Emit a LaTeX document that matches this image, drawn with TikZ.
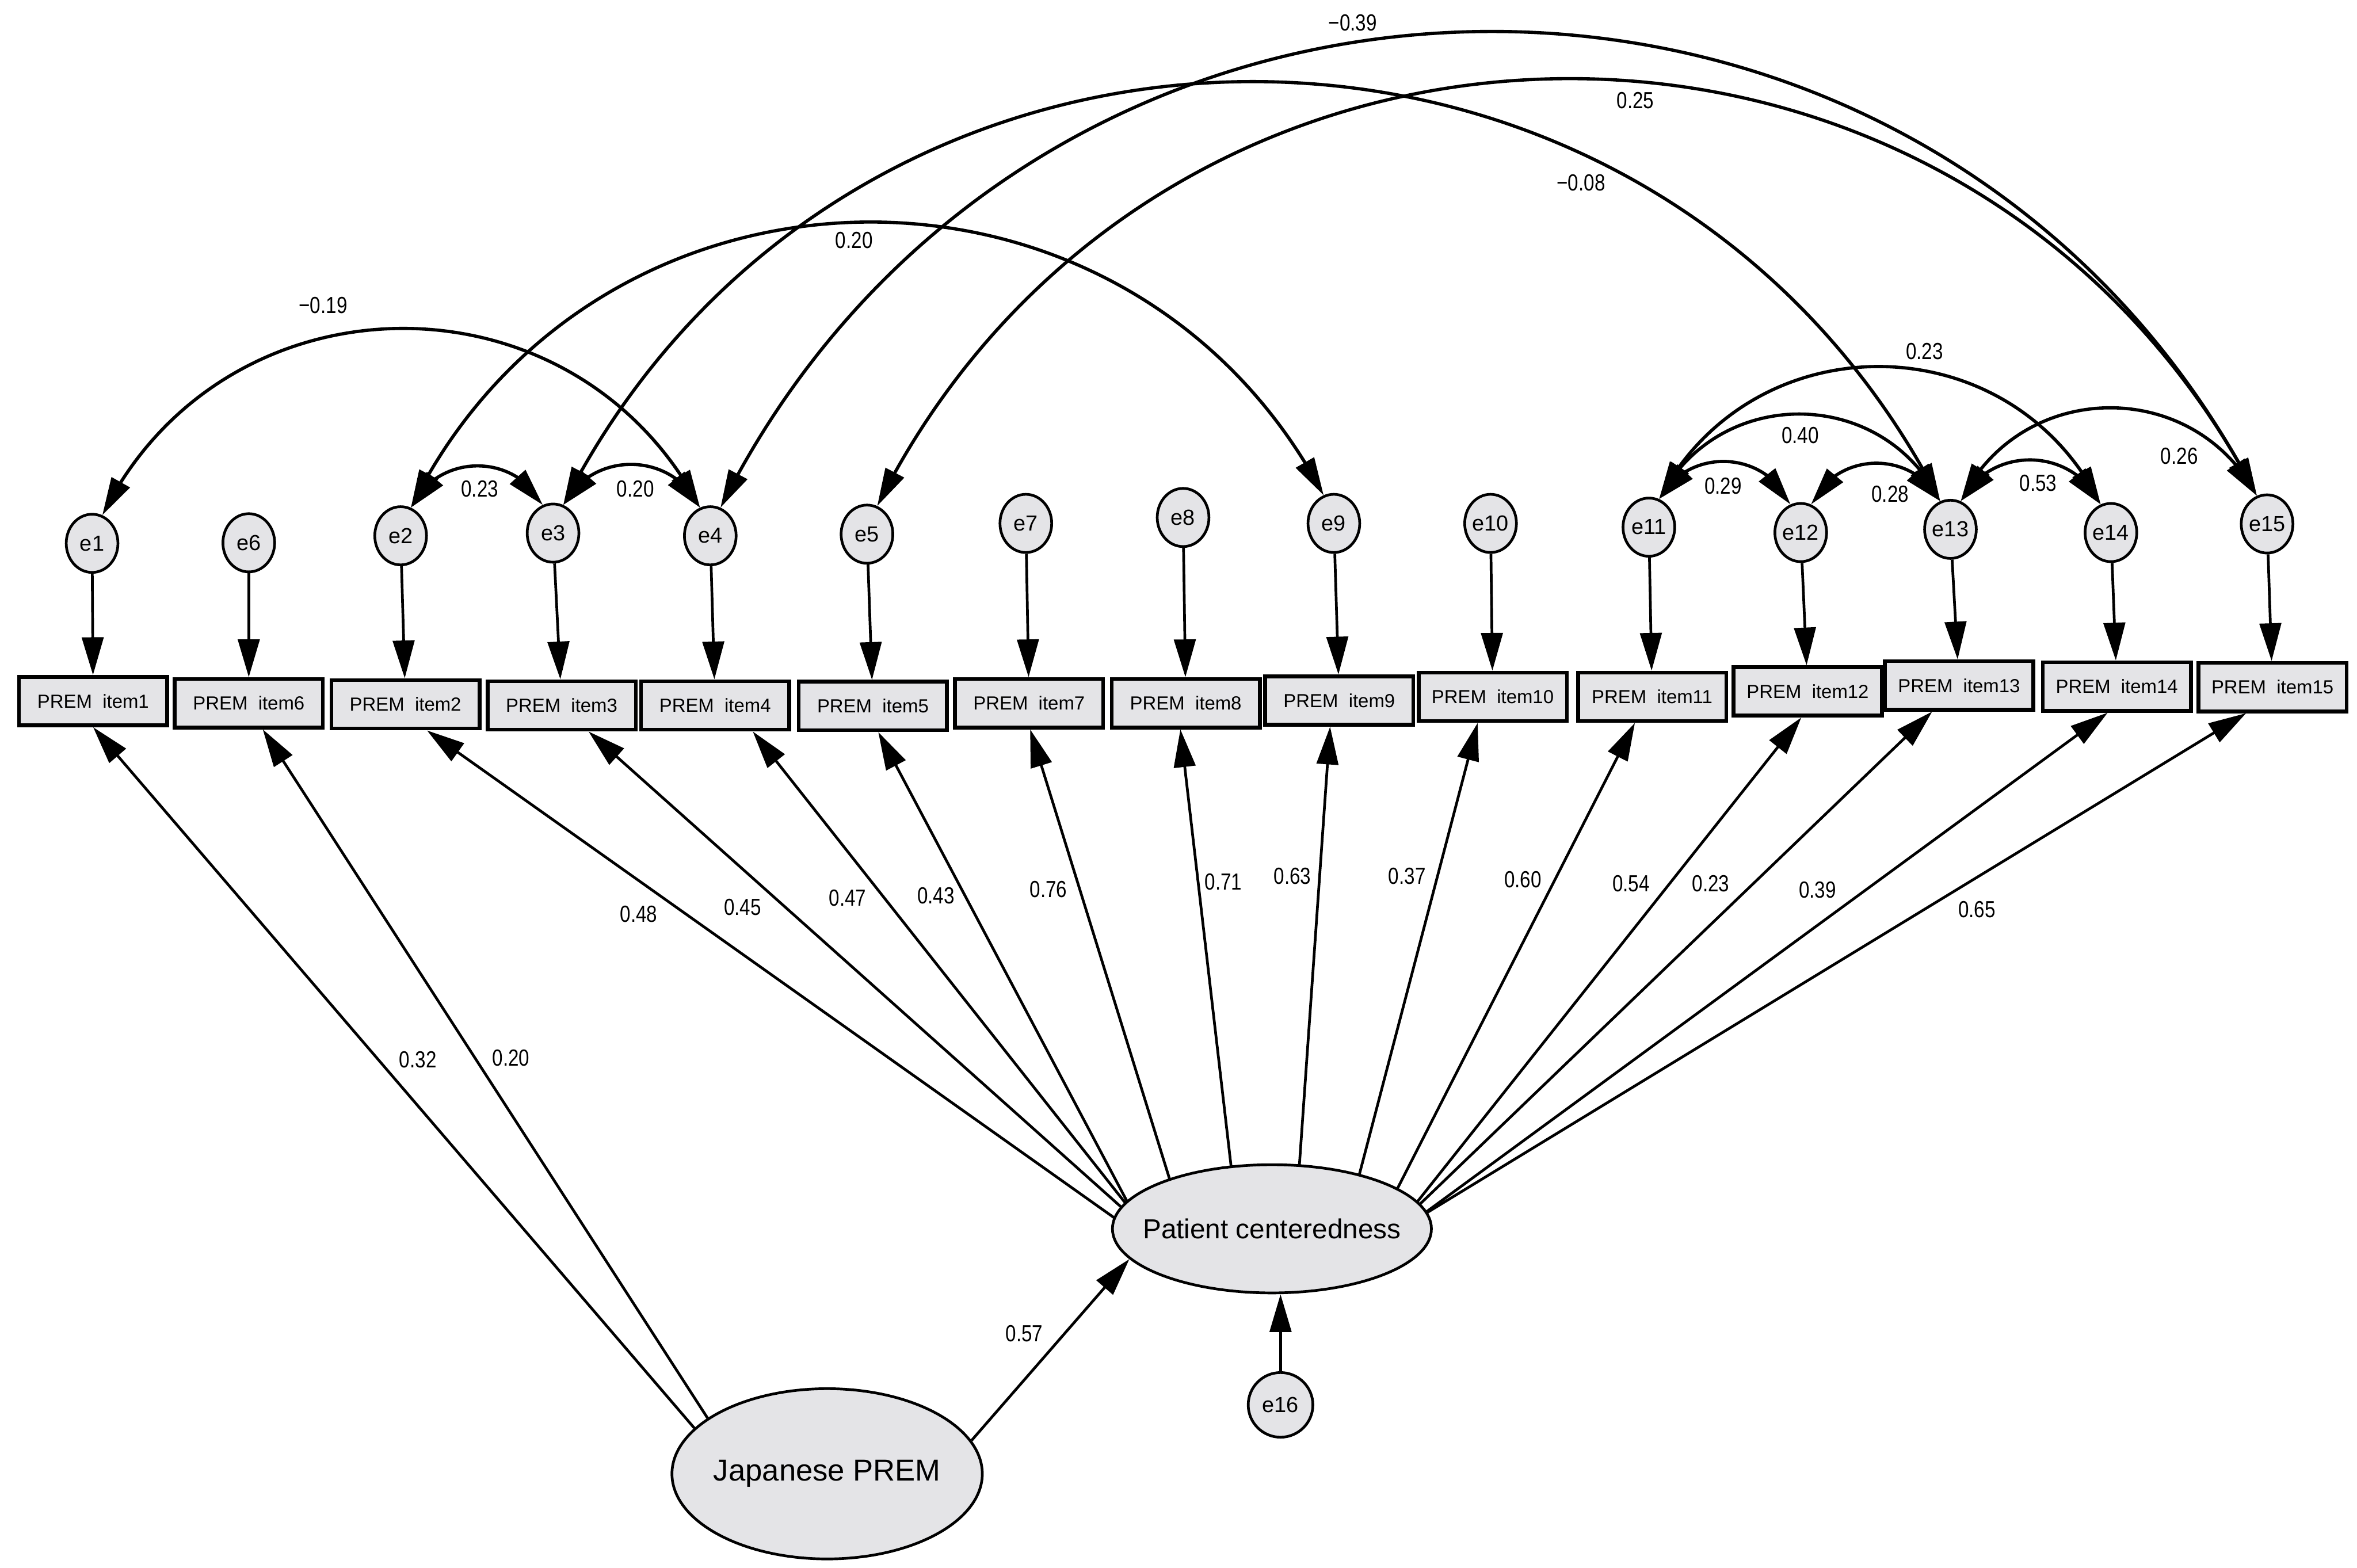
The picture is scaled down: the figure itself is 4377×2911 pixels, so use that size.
\documentclass[tikz,border=0pt]{standalone}
\usepackage{fontspec}
\setmainfont{Liberation Sans}
\newfontfamily\lblfont[FakeStretch=0.82]{Liberation Sans}
\usetikzlibrary{arrows.meta,shapes.geometric,intersections,bending}
\definecolor{shapefill}{RGB}{228,228,231}
\begin{document}
\begin{tikzpicture}[x=0.01cm, y=-0.01cm,
  regline/.style={line width=0.05cm, -{Triangle[length=0.7cm,width=0.4cm]}},
  covline/.style={line width=0.06cm, {Triangle[length=0.7cm,width=0.38cm]}-{Triangle[length=0.7cm,width=0.38cm]}, bend left=63, looseness=1.17},
  errnode/.style={ellipse, draw, line width=0.05cm, fill=shapefill, minimum width=0.96cm, minimum height=1.08cm, inner sep=0pt, font=\fontsize{11.5}{13}\selectfont},
  itembox/.style={rectangle, draw, line width=0.07cm, fill=shapefill, minimum width=2.75cm, minimum height=0.9cm, inner sep=0pt, font=\fontsize{10}{12}\selectfont},
  latent/.style={ellipse, draw, line width=0.05cm, fill=shapefill, inner sep=0pt},
  lbl/.style={inner sep=0pt, font=\lblfont\fontsize{12.3}{14}\selectfont}]
\useasboundingbox (0,0) rectangle (4377,2911);
\fill[white] (0,0) rectangle (4377,2911);

% error terms
\node[errnode] (e1)  at (171,1009) {\makebox[0pt]{e1}};
\node[errnode] (e6)  at (462,1008) {\makebox[0pt]{e6}};
\node[errnode] (e2)  at (744,995)  {\makebox[0pt]{e2}};
\node[errnode] (e3)  at (1027,990) {\makebox[0pt]{e3}};
\node[errnode] (e4)  at (1319,995) {\makebox[0pt]{e4}};
\node[errnode] (e5)  at (1610,992) {\makebox[0pt]{e5}};
\node[errnode] (e7)  at (1905,972) {\makebox[0pt]{e7}};
\node[errnode] (e8)  at (2197,961) {\makebox[0pt]{e8}};
\node[errnode] (e9)  at (2477,972) {\makebox[0pt]{e9}};
\node[errnode] (e10) at (2768,972) {\makebox[0pt]{e10}};
\node[errnode] (e11) at (3062,979) {\makebox[0pt]{e11}};
\node[errnode] (e12) at (3344,989) {\makebox[0pt]{e12}};
\node[errnode] (e13) at (3622,983) {\makebox[0pt]{e13}};
\node[errnode] (e14) at (3920,989) {\makebox[0pt]{e14}};
\node[errnode] (e15) at (4210,973) {\makebox[0pt]{e15}};

% items
\node[itembox] (item1)  at (173,1302)  {PREM\ \ item1};
\node[itembox] (item6)  at (462,1306)  {PREM\ \ item6};
\node[itembox] (item2)  at (753,1308)  {PREM\ \ item2};
\node[itembox] (item3)  at (1043,1310) {PREM\ \ item3};
\node[itembox] (item4)  at (1328,1310) {PREM\ \ item4};
\node[itembox] (item5)  at (1621,1311) {PREM\ \ item5};
\node[itembox] (item7)  at (1911,1306) {PREM\ \ item7};
\node[itembox] (item8)  at (2202,1306) {PREM\ \ item8};
\node[itembox] (item9)  at (2487,1301) {PREM\ \ item9};
\node[itembox] (item10) at (2772,1294) {PREM\ \ item10};
\node[itembox] (item11) at (3068,1294) {PREM\ \ item11};
\node[itembox] (item12) at (3357,1284) {PREM\ \ item12};
\node[itembox] (item13) at (3638,1273) {PREM\ \ item13};
\node[itembox] (item14) at (3931,1275) {PREM\ \ item14};
\node[itembox] (item15) at (4220,1276) {PREM\ \ item15};

% latent variables
\node[latent, minimum width=5.92cm, minimum height=2.38cm, font=\fontsize{14.5}{16}\selectfont] (pc) at (2362,2282) {\makebox[0pt]{Patient centeredness}};
\node[latent, minimum width=5.76cm, minimum height=3.16cm, font=\fontsize{16}{18}\selectfont] (jp) at (1536,2737) {\makebox[0pt]{Japanese PREM}};
\node[errnode, minimum width=1.2cm, minimum height=1.2cm] (e16) at (2378,2609) {\makebox[0pt]{e16}};

% error -> item
\foreach \k in {1,...,15} \draw[regline] (e\k) -- (item\k);

% Patient centeredness -> items
\path[name path=pcrim] (pc.center) ellipse [x radius=2.96cm, y radius=1.19cm];
\foreach \k/\off/\s in {2/40/1.41,3/50/1.12,4/70/0.79,5/10/0.53,7/2/0.31,8/-10/0.116,9/-17/-0.07,10/-28/-0.262,11/-32/-0.51,12/-12/-0.793,13/-50/-1.04,14/-17/-1.365,15/-49/-1.64}{
  \coordinate (T\k) at ([xshift=\off*0.01cm]item\k.south);
  \path[name path=ray] (T\k) -- ++(\s*1300,1300);
  \path[name intersections={of=ray and pcrim, sort by=ray, by={H\k}}];
  \draw[regline] (H\k) -- (T\k);
}

% Japanese PREM paths
\coordinate (T1) at (item1.south);
\coordinate (T6) at ([xshift=0.26cm]item6.south);
\draw[regline] (jp.161) -- (T1);
\draw[regline] (jp.155) -- (T6);
\draw[regline] (jp.13) -- (pc.192);
\draw[regline] (e16) -- (e16 |- pc.south);

% covariances
\draw[covline] (e1.70) to (e4.110);
\draw[covline] (e2.70) to (e9.110);
\draw[covline] (e3.70) to (e13.110);
\draw[covline] (e4.70) to (e15.110);
\draw[covline] (e5.70) to (e15.110);
\draw[covline] (e2.70) to (e3.110);
\draw[covline] (e3.70) to (e4.110);
\draw[covline] (e11.70) to (e12.110);
\draw[covline] (e12.70) to (e13.110);
\draw[covline] (e13.70) to (e14.110);
\draw[covline] (e11.70) to (e13.110);
\draw[covline] (e11.70) to (e14.110);
\draw[covline] (e13.70) to (e15.110);

% covariance labels
\node[lbl] (c1)  at (600,567)  {−0.19};
\node[lbl] (c2)  at (1586,446) {0.20};
\node[lbl] (c3)  at (2936,339) {−0.08};
\node[lbl] (c4)  at (2512,42)  {−0.39};
\node[lbl] (c5)  at (3037,187) {0.25};
\node[lbl] (c6)  at (891,908)  {0.23};
\node[lbl] (c7)  at (1180,908) {0.20};
\node[lbl] (c8)  at (3574,652) {0.23};
\node[lbl] (c9)  at (3343,808) {0.40};
\node[lbl] (c10) at (3200,902) {0.29};
\node[lbl] (c11) at (3510,917) {0.28};
\node[lbl] (c12) at (3785,897) {0.53};
\node[lbl] (c13) at (4047,847) {0.26};

% loading labels
\node[lbl] (l1)  at (776,1968)  {0.32};
\node[lbl] (l6)  at (949,1965)  {0.20};
\node[lbl] (l2)  at (1186,1698) {0.48};
\node[lbl] (l3)  at (1379,1685) {0.45};
\node[lbl] (l4)  at (1574,1668) {0.47};
\node[lbl] (l5)  at (1738,1663) {0.43};
\node[lbl] (l7)  at (1947,1652) {0.76};
\node[lbl] (l8)  at (2272,1638) {0.71};
\node[lbl] (l9)  at (2400,1627) {0.63};
\node[lbl] (l10) at (2613,1627) {0.37};
\node[lbl] (l11) at (2828,1633) {0.60};
\node[lbl] (l12) at (3029,1641) {0.54};
\node[lbl] (l13) at (3177,1641) {0.23};
\node[lbl] (l14) at (3375,1653) {0.39};
\node[lbl] (l15) at (3671,1689) {0.65};
\node[lbl] (l16) at (1902,2477) {0.57};
\end{tikzpicture}
\end{document}
